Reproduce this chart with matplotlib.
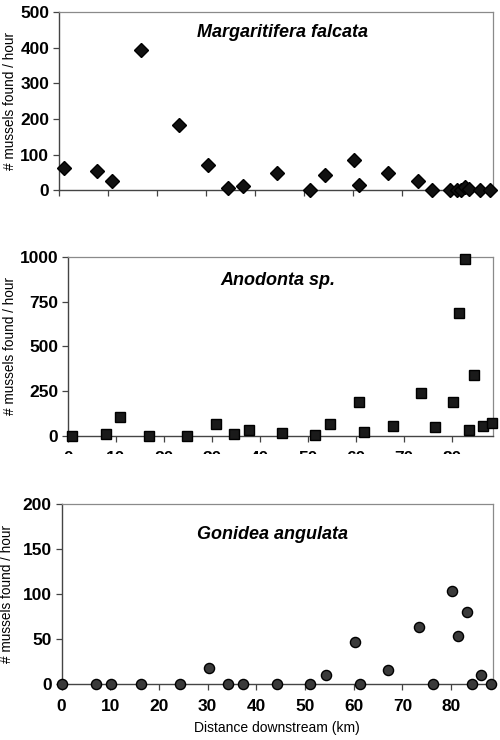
import matplotlib
matplotlib.use('Agg')
import matplotlib.pyplot as plt
from matplotlib.patches import Rectangle

plt.rcParams['font.family'] = ['Liberation Sans', 'DejaVu Sans']

# Margaritifera falcata
km_marg = [1.0, 7.7, 10.8, 16.7, 24.5, 30.5, 34.5, 37.6, 44.5, 51.3, 54.4, 60.3,
           61.2, 67.1, 73.2, 76.1, 79.8, 81.2, 82.0, 82.8, 83.7, 85.9, 87.9]
n_marg = [62, 55, 25, 392, 182, 70, 5, 11, 48, 1, 42, 84,
          14, 48, 27, 0, 0, 0, 0, 10, 3, 0, 0]

# Anodonta sp.
km_anod = [0.9, 7.9, 10.8, 16.8, 24.8, 30.8, 34.6, 37.7, 44.7, 51.5, 54.7, 60.7,
           61.8, 67.7, 73.5, 76.5, 80.3, 81.6, 82.8, 83.7, 84.7, 86.5, 88.3]
n_anod = [0, 9, 108, 0, 2, 67, 8, 33, 15, 5, 68, 191,
          19, 55, 238, 48, 188, 684, 985, 32, 340, 56, 71]

# Gonidea angulata
km_goni = [0.0, 7.0, 10.1, 16.3, 24.3, 30.3, 34.2, 37.3, 44.2, 51.1, 54.4, 60.3,
           61.2, 67.1, 73.4, 76.2, 80.2, 81.4, 83.3, 84.3, 86.2, 88.2]
n_goni = [0, 0, 0, 0, 0, 18, 0, 0, 0, 0, 10, 47,
          0, 15, 63, 0, 103, 53, 80, 0, 10, 0]

xticks = list(range(0, 90, 10))

fig = plt.figure(figsize=(5, 7.4), dpi=100)

panels = [
    # rect, x, y, marker, size, colour, ylim, yticks, title, title pos, ylabel x, x labels
    ([0.118, 0.743, 0.868, 0.241], km_marg, n_marg, 'D', 7.3, '#111111',
     (0, 500), [0, 100, 200, 300, 400, 500], 'Margaritifera falcata', (0.514, 0.885),
     -0.097, 'none'),
    ([0.136, 0.411, 0.850, 0.242], km_anod, n_anod, 's', 7.3, '#1a1a1a',
     (0, 1000), [0, 250, 500, 750, 1000], 'Anodonta sp.', (0.495, 0.87),
     -0.119, 'cut'),
    ([0.123, 0.0757, 0.863, 0.243], km_goni, n_goni, 'o', 7.3, '#3a3a3a',
     (0, 200), [0, 50, 100, 150, 200], 'Gonidea angulata', (0.49, 0.83),
     -0.111, 'full'),
]

for rect, x, y, mk, ms, col, ylim, yt, title, tpos, ylx, xlab in panels:
    ax = fig.add_axes(rect)
    ax.plot(x, y, linestyle='none', marker=mk, markersize=ms,
            color=col, markeredgecolor='#000000', clip_on=False, zorder=3)
    ax.set_xlim(0, 88.6)
    ax.set_ylim(*ylim)
    ax.set_yticks(yt)
    ax.set_xticks(xticks)
    for s in ['top', 'right']:
        ax.spines[s].set_color('#8a8a8a')
        ax.spines[s].set_linewidth(0.9)
    for s in ['left', 'bottom']:
        ax.spines[s].set_color('#444444')
        ax.spines[s].set_linewidth(1.0)
    ax.tick_params(axis='both', direction='out', length=4, width=0.9,
                   color='#444444', labelsize=12.5, pad=3)
    ax.tick_params(axis='x', pad=7)
    for lbl in ax.get_yticklabels():
        lbl.set_fontweight('bold')
    if xlab == 'none':
        ax.tick_params(axis='x', labelbottom=False)
    else:
        for lbl in ax.get_xticklabels():
            lbl.set_fontweight('bold')
    if xlab == 'full':
        ax.set_xlabel('Distance downstream (km)', fontsize=10, labelpad=5)
    ax.set_ylabel('# mussels found / hour', fontsize=9.8)
    ax.yaxis.set_label_coords(ylx, 0.5)
    ax.text(tpos[0], tpos[1], title, transform=ax.transAxes, ha='center', va='center',
            fontsize=13, fontweight='bold', fontstyle='italic')

# middle panel's x tick labels are cut off in the original scan
fig.patches.append(Rectangle((0, 0.33), 1, 1 - 454 / 740 - 0.33,
                             transform=fig.transFigure, facecolor='white',
                             edgecolor='none', zorder=10))

fig.savefig('out.png', dpi=100)
